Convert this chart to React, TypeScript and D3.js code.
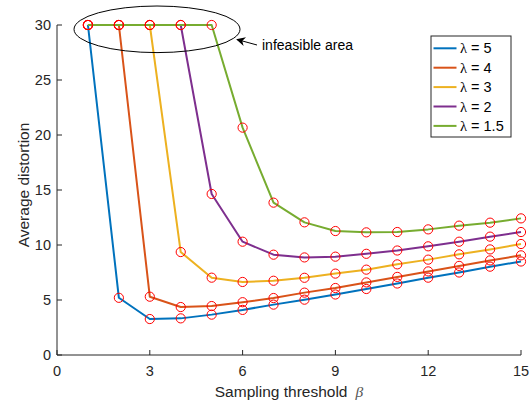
import React from "react";
import * as d3 from "d3";

const betas = [1, 2, 3, 4, 5, 6, 7, 8, 9, 10, 11, 12, 13, 14, 15];
const seriesNames = ["λ = 5", "λ = 4", "λ = 3", "λ = 2", "λ = 1.5"];
const lambda5 = [30, 5.2, 3.27, 3.33, 3.67, 4.1, 4.58, 5.03, 5.5, 6.0, 6.5, 7.03, 7.5, 8.03, 8.5];
const lambda4 = [30, 30, 5.3, 4.36, 4.45, 4.8, 5.18, 5.67, 6.09, 6.6, 7.1, 7.6, 8.1, 8.6, 9.06];
const lambda3 = [30, 30, 30, 9.36, 7.03, 6.64, 6.75, 7.02, 7.4, 7.76, 8.24, 8.67, 9.15, 9.6, 10.09];
const lambda2 = [30, 30, 30, 30, 14.64, 10.3, 9.12, 8.87, 8.94, 9.2, 9.5, 9.88, 10.3, 10.76, 11.18];
const lambda15 = [30, 30, 30, 30, 30, 20.67, 13.85, 12.06, 11.27, 11.15, 11.18, 11.42, 11.76, 12.03, 12.42];
const seriesValues = [lambda5, lambda4, lambda3, lambda2, lambda15];
const colors = ["#0072BD", "#D95319", "#EDB120", "#7E2F8E", "#77AC30"];
const xTicks = [0, 3, 6, 9, 12, 15];
const yTicks = [0, 5, 10, 15, 20, 25, 30];
const xLabel = "Sampling threshold";
const yLabel = "Average distortion";
const annotation = "infeasible area";

const W = 532;
const H = 407;
const axisColor = "#262626";
const font = "'Liberation Sans', Arial, Helvetica, sans-serif";

export default function App() {
  const x = d3.scaleLinear().domain([0, 15]).range([57, 521]);
  const y = d3.scaleLinear().domain([0, 30]).range([355, 25]);
  const line = d3
    .line<number>()
    .x((_, i) => x(betas[i]))
    .y((d) => y(d));

  return (
    <svg
      width={W}
      height={H}
      style={{ position: "absolute", left: 0, top: 0, background: "#fff" }}
      fontFamily={font}
    >
      <defs>
        <marker id="arr" viewBox="0 0 10 10" refX="9" refY="5" markerWidth="11" markerHeight="9" markerUnits="userSpaceOnUse" orient="auto">
          <path d="M0,0 L10,5 L0,10 L3,5 Z" fill="#000" />
        </marker>
      </defs>
      <rect x={0} y={0} width={W} height={H} fill="#fff" />

      {seriesValues.map((vals, si) => (
        <path key={si} d={line(vals) || ""} fill="none" stroke={colors[si]} strokeWidth={2} strokeLinejoin="round" />
      ))}
      {seriesValues.map((vals, si) =>
        vals.map((v, i) => (
          <circle key={`${si}-${i}`} cx={x(betas[i])} cy={y(v)} r={4.6} fill="none" stroke="#FF0000" strokeWidth={1} />
        ))
      )}

      <line x1={x(0)} x2={x(15)} y1={y(0)} y2={y(0)} stroke={axisColor} strokeWidth={1} />
      <line x1={x(0)} x2={x(0)} y1={y(0)} y2={y(30)} stroke={axisColor} strokeWidth={1} />
      {xTicks.map((t) => (
        <g key={`xt${t}`}>
          <line x1={x(t)} x2={x(t)} y1={y(0)} y2={y(0) - 5} stroke={axisColor} />
          <text x={x(t)} y={376} textAnchor="middle" fontSize={14.5} fill={axisColor}>
            {t}
          </text>
        </g>
      ))}
      {yTicks.map((t) => (
        <g key={`yt${t}`}>
          <line x1={x(0)} x2={x(0) + 5} y1={y(t)} y2={y(t)} stroke={axisColor} />
          <text x={51} y={y(t) + 5} textAnchor="end" fontSize={14.5} fill={axisColor}>
            {t}
          </text>
        </g>
      ))}

      <text x={289} y={397} textAnchor="middle" fontSize={15.5} fill={axisColor}>
        {xLabel}
        <tspan dx={8} fontFamily="'Liberation Serif', 'DejaVu Serif', serif" fontStyle="italic" fill="#555">β</tspan>
      </text>
      <text
        transform={`translate(29,${(y(0) + y(30)) / 2 - 5}) rotate(-90)`}
        textAnchor="middle"
        fontSize={15.5}
        fill={axisColor}
      >
        {yLabel}
      </text>

      <ellipse cx={157} cy={29.3} rx={83} ry={23.3} fill="none" stroke="#000" strokeWidth={1} />
      <line x1={257} y1={45} x2={237} y2={39.5} stroke="#000" strokeWidth={1} markerEnd="url(#arr)" />
      <text x={262} y={50} fontSize={14} fill="#000">
        {annotation}
      </text>

      <rect x={431} y={36} width={80} height={101} fill="#fff" stroke={axisColor} strokeWidth={1} />
      {seriesNames.map((name, i) => {
        const cy = 48.3 + i * 19.4;
        const [lam, rest] = [name.slice(0, 1), name.slice(1)];
        return (
          <g key={name}>
            <line x1={433.5} x2={456.5} y1={cy} y2={cy} stroke={colors[i]} strokeWidth={2} />
            <text x={460} y={cy + 5} fontSize={14.5} fill="#000">
              <tspan fontFamily="'Liberation Serif', 'DejaVu Serif', serif">{lam}</tspan>
              {rest}
            </text>
          </g>
        );
      })}
    </svg>
  );
}
